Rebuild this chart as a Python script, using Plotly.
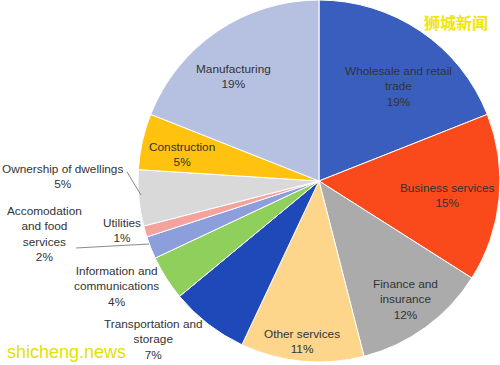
import plotly.graph_objects as go

# ---- data ----
sectors = [
    "Wholesale and retail trade", "Business services", "Finance and insurance",
    "Other services", "Transportation and storage", "Information and communications",
    "Accomodation and food services", "Utilities", "Ownership of dwellings",
    "Construction", "Manufacturing",
]
shares = [19, 15, 12, 11, 7, 4, 2, 1, 5, 5, 19]
label_text = [
    "Wholesale and retail<br>trade", "Business services", "Finance and<br>insurance",
    "Other services", "Transportation and<br>storage", "Information and<br>communications",
    "Accomodation<br>and food<br>services", "Utilities", "Ownership of dwellings",
    "Construction", "Manufacturing",
]

# ---- style ----
colors = ["#3A5EBE", "#FA4A1C", "#ABABAB", "#FDD68C", "#1F48B8", "#8FCF5C",
          "#8C9EDB", "#F4A39C", "#D9D9D9", "#FFC20E", "#B6C1E2"]
# label centre positions in pixels
label_pos = [(398, 86), (447, 195), (405, 299), (302, 341), (153, 339), (116, 286),
             (44, 234), (122, 230), (62, 176), (182, 154), (233, 76)]

W, H = 500, 365
fig = go.Figure(go.Pie(
    labels=sectors, values=shares, sort=False, direction="clockwise", rotation=0,
    marker=dict(colors=colors, line=dict(color="#ffffff", width=1)),
    textinfo="none", hoverinfo="label+percent", showlegend=False,
    domain=dict(x=[138 / W, 1.0], y=[1 - 362 / H, 1.0]),
))

for name, pct, (px, py) in zip(label_text, shares, label_pos):
    fig.add_annotation(
        x=px / W, y=1 - py / H, xref="paper", yref="paper",
        text=f"{name}<br>{pct}%", showarrow=False, align="center",
        xanchor="center", yanchor="middle",
        font=dict(family="Liberation Sans, Arial", size=11.8, color="#333333"),
    )

# leader lines
for (x0, y0, x1, y1) in [(127, 172, 141, 195), (76, 248, 149, 244)]:
    fig.add_shape(type="line", xref="paper", yref="paper",
                  x0=x0 / W, y0=1 - y0 / H, x1=x1 / W, y1=1 - y1 / H,
                  line=dict(color="#8a8a8a", width=1))

# watermarks
fig.add_annotation(x=456 / W, y=1 - 22 / H, xref="paper", yref="paper", showarrow=False,
                   xanchor="center", yanchor="middle",
                   text="<b>狮城新闻</b>", font=dict(family="Noto Sans CJK SC", size=16, color="#F2E600"))
fig.add_annotation(x=66 / W, y=1 - 352 / H, xref="paper", yref="paper", showarrow=False,
                   xanchor="center", yanchor="middle",
                   text="shicheng.news", font=dict(family="Liberation Sans, Arial", size=18, color="#E2E200"))

fig.update_layout(width=W, height=H, margin=dict(l=0, r=0, t=0, b=0),
                  paper_bgcolor="white", plot_bgcolor="white")
fig.write_html("out.html", config={"displayModeBar": False},
               post_script="document.body.style.margin='0';document.body.style.overflow='hidden';")
